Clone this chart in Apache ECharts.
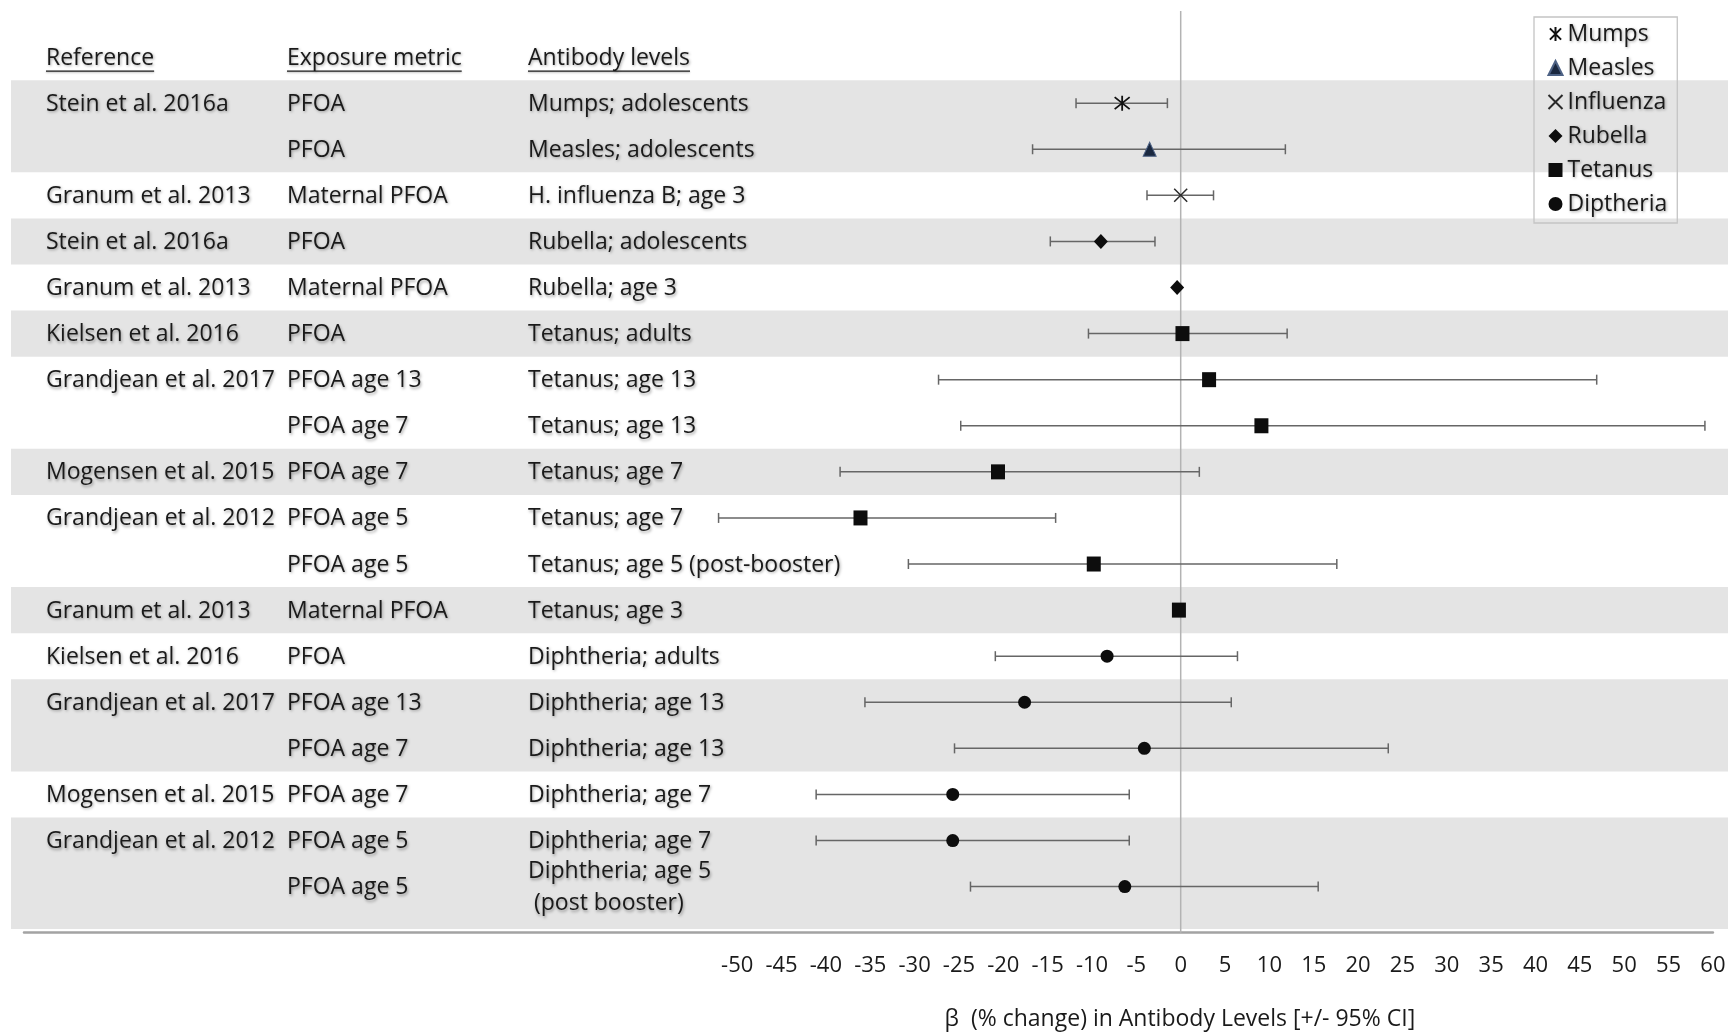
<!DOCTYPE html>
<html><head><meta charset="utf-8">
<script src="https://cdn.jsdelivr.net/npm/echarts@6/dist/echarts.min.js"></script>
<style>html,body{margin:0;padding:0;background:#fff}#c{width:1728px;height:1032px}</style>
</head><body><div id="c"></div>
<script>
// ---------------- data ----------------
const headers = ['Reference', 'Exposure metric', 'Antibody levels'];
const references = ['Stein et al. 2016a', '', 'Granum et al. 2013', 'Stein et al. 2016a', 'Granum et al. 2013',
  'Kielsen et al. 2016', 'Grandjean et al. 2017', '', 'Mogensen et al. 2015', 'Grandjean et al. 2012', '',
  'Granum et al. 2013', 'Kielsen et al. 2016', 'Grandjean et al. 2017', '', 'Mogensen et al. 2015',
  'Grandjean et al. 2012', ''];
const exposures = ['PFOA', 'PFOA', 'Maternal PFOA', 'PFOA', 'Maternal PFOA', 'PFOA', 'PFOA age 13', 'PFOA age 7',
  'PFOA age 7', 'PFOA age 5', 'PFOA age 5', 'Maternal PFOA', 'PFOA', 'PFOA age 13', 'PFOA age 7', 'PFOA age 7',
  'PFOA age 5', 'PFOA age 5'];
const antibodies = ['Mumps; adolescents', 'Measles; adolescents', 'H. influenza B; age 3', 'Rubella; adolescents',
  'Rubella; age 3', 'Tetanus; adults', 'Tetanus; age 13', 'Tetanus; age 13', 'Tetanus; age 7', 'Tetanus; age 7',
  'Tetanus; age 5 (post-booster)', 'Tetanus; age 3', 'Diphtheria; adults', 'Diphtheria; age 13',
  'Diphtheria; age 13', 'Diphtheria; age 7', 'Diphtheria; age 7', 'Diphtheria; age 5\n (post booster)'];
const outcomes = ['Mumps', 'Measles', 'Influenza', 'Rubella', 'Rubella', 'Tetanus', 'Tetanus', 'Tetanus', 'Tetanus',
  'Tetanus', 'Tetanus', 'Tetanus', 'Diptheria', 'Diptheria', 'Diptheria', 'Diptheria', 'Diptheria', 'Diptheria'];
const beta   = [-6.6, -3.5, 0.0, -9.0, -0.4, 0.2, 3.2, 9.1, -20.6, -36.1, -9.8, -0.2, -8.3, -17.6, -4.1, -25.7, -25.7, -6.3];
const ciLow  = [-11.8, -16.7, -3.8, -14.7, null, -10.4, -27.3, -24.8, -38.4, -52.1, -30.7, null, -20.9, -35.6, -25.5, -41.1, -41.1, -23.7];
const ciHigh = [-1.5, 11.8, 3.7, -2.9, null, 12.0, 46.9, 59.1, 2.1, -14.1, 17.6, null, 6.4, 5.7, 23.4, -5.8, -5.8, 15.5];
const shadedGroups = [[0, 1], [3, 3], [5, 5], [8, 8], [11, 11], [13, 14], [16, 17]];
const diseases = ['Mumps', 'Measles', 'Influenza', 'Rubella', 'Tetanus', 'Diptheria'];
const referenceValue = 0;
const axisTitle = 'β  (% change) in Antibody Levels [+/- 95% CI]';

// ---------------- layout / style ----------------
const FONT_FAMILY = '"Open Sans", Lato, sans-serif';
const FS = 23;
const FONT = FS + 'px ' + FONT_FAMILY;
const TXT = '#1a1a1a';
const SHADOW = {textShadowColor: 'rgba(0,0,0,0.35)', textShadowBlur: 3, textShadowOffsetX: 1, textShadowOffsetY: 1.5};
const X0 = 1180.7, PPU = 8.87;            // pixel of 0 and pixels per unit
const XMIN = -55, XMAX = 60;
const TOP = 11, BOTTOM = 99.3;
const colOffsets = [35, 276, 517];

const measure = (() => { const c = document.createElement('canvas').getContext('2d'); c.font = FONT; return t => c.measureText(t).width; })();

const symbols = {
  Mumps:     {symbol: 'path://M-1,-1L1,1M-1,1L1,-1M0,-1.25L0,1.25', size: 15, itemStyle: {color: 'none', borderColor: '#111', borderWidth: 1.8, opacity: 1}},
  Measles:   {symbol: 'triangle', size: [13, 14], itemStyle: {color: '#1a2840', borderColor: '#4d6285', borderWidth: 1, opacity: 1}},
  Influenza: {symbol: 'path://M-1,-1L1,1M-1,1L1,-1', size: 13, itemStyle: {color: 'none', borderColor: '#2a2a2a', borderWidth: 1.5, opacity: 1}},
  Rubella:   {symbol: 'diamond', size: [14, 15], itemStyle: {color: '#0d0d0d', opacity: 1}},
  Tetanus:   {symbol: 'rect', size: [14, 15], itemStyle: {color: '#0d0d0d', opacity: 1}},
  Diptheria: {symbol: 'circle', size: 13, itemStyle: {color: '#0d0d0d', opacity: 1}}
};

const rows = antibodies.map((_, i) => i);

const chart = echarts.init(document.getElementById('c'));

const series = [
  // table bands
  {
    type: 'custom', xAxisIndex: 0, yAxisIndex: 0, z: 0, silent: true,
    data: shadedGroups,
    renderItem(params, api) {
      const s = api.value(0), e = api.value(1);
      const cs = params.coordSys;
      const extra = antibodies[e].indexOf('\n') >= 0 ? 0.42 : 0;
      const y0 = api.coord([0, s - 0.5])[1];
      const y1 = api.coord([0, e + 0.5 + extra])[1];
      return {type: 'rect', shape: {x: cs.x, y: y0, width: cs.width, height: y1 - y0}, style: {fill: '#e4e4e4'}};
    }
  },
  // table text (header row = -1)
  {
    type: 'custom', xAxisIndex: 0, yAxisIndex: 0, z: 1, silent: true,
    data: [-1].concat(rows),
    renderItem(params, api) {
      const r = api.value(0);
      const cs = params.coordSys;
      const y = api.coord([0, r])[1] + 1;
      const texts = r < 0 ? headers : [references[r], exposures[r], antibodies[r]];
      const children = [];
      texts.forEach((t, k) => {
        const x = cs.x + colOffsets[k];
        children.push({type: 'text', style: Object.assign({text: t, x, y, fill: TXT, font: FONT,
          align: 'left', verticalAlign: 'middle', lineHeight: 32}, SHADOW)});
        if (r < 0) {
          children.push({type: 'line', shape: {x1: x, y1: y + 13, x2: x + measure(t), y2: y + 13},
            style: {stroke: TXT, lineWidth: 1.3, shadowColor: 'rgba(0,0,0,0.3)', shadowBlur: 2, shadowOffsetY: 1}});
        }
      });
      return {type: 'group', children};
    }
  },
  // zero reference line (behind the markers)
  {
    type: 'custom', xAxisIndex: 1, yAxisIndex: 1, z: 2, silent: true,
    data: [[referenceValue]],
    renderItem(params, api) {
      const cs = params.coordSys;
      const x = api.coord([api.value(0), 0])[0];
      return {type: 'line', shape: {x1: x, y1: cs.y, x2: x, y2: cs.y + cs.height},
        style: {stroke: '#b3b3b3', lineWidth: 1.5}};
    }
  },
  // error bars
  {
    type: 'custom', xAxisIndex: 1, yAxisIndex: 1, z: 3, silent: true,
    data: rows.filter(i => ciLow[i] != null).map(i => [ciLow[i], ciHigh[i], i]),
    renderItem(params, api) {
      const lo = api.coord([api.value(0), api.value(2)]);
      const hi = api.coord([api.value(1), api.value(2)]);
      const st = {stroke: '#666666', lineWidth: 1.5};
      const h = 5;
      return {type: 'group', children: [
        {type: 'line', shape: {x1: lo[0], y1: lo[1], x2: hi[0], y2: hi[1]}, style: st},
        {type: 'line', shape: {x1: lo[0], y1: lo[1] - h, x2: lo[0], y2: lo[1] + h}, style: st},
        {type: 'line', shape: {x1: hi[0], y1: hi[1] - h, x2: hi[0], y2: hi[1] + h}, style: st}
      ]};
    }
  }
].concat(diseases.map(d => ({
  name: d, type: 'scatter', xAxisIndex: 1, yAxisIndex: 1, z: 4,
  symbol: symbols[d].symbol, symbolSize: symbols[d].size, itemStyle: symbols[d].itemStyle,
  data: rows.filter(i => outcomes[i] === d).map(i => [beta[i], i])
})));

const option = {
  animation: false,
  backgroundColor: '#fff',
  grid: [
    {left: 11, right: 0, top: TOP, bottom: BOTTOM, containLabel: false, outerBoundsMode: 'none'},
    {left: X0 + XMIN * PPU, right: 1728 - (X0 + XMAX * PPU), top: TOP, bottom: BOTTOM, containLabel: false, outerBoundsMode: 'none'},
    {left: 24, right: 1728 - (X0 + XMAX * PPU), top: TOP, bottom: BOTTOM, containLabel: false, outerBoundsMode: 'none'}
  ],
  xAxis: [
    {gridIndex: 0, type: 'value', min: 0, max: 1, show: false},
    {gridIndex: 1, type: 'value', min: XMIN, max: XMAX, interval: 5,
      axisLine: {show: false}, axisTick: {show: false}, splitLine: {show: false},
      axisLabel: {show: true, margin: 22, color: TXT, fontSize: 22, fontFamily: FONT_FAMILY,
        formatter: v => (v < -50 ? '' : String(v))},
      name: axisTitle, nameLocation: 'middle', nameGap: 75,
      nameTextStyle: {color: TXT, fontSize: FS, fontFamily: FONT_FAMILY, padding: [0, 46, 0, 0]}},
    {gridIndex: 2, type: 'value', min: 0, max: 1,
      axisLine: {show: true, onZero: false, lineStyle: {color: '#a3a3a3', width: 2.5}},
      axisTick: {show: false}, axisLabel: {show: false}, splitLine: {show: false}}
  ],
  yAxis: [
    {gridIndex: 0, type: 'value', min: -2, max: 18, inverse: true, show: false},
    {gridIndex: 1, type: 'value', min: -2, max: 18, inverse: true, show: false},
    {gridIndex: 2, type: 'value', min: 0, max: 1, show: false}
  ],
  legend: {
    data: diseases, orient: 'vertical', left: 1534, top: 17,
    padding: [5, 10, 7, 12], itemGap: 10, itemWidth: 14, itemHeight: 14,
    borderColor: '#c4c4c4', borderWidth: 1.3, borderRadius: 0, backgroundColor: 'transparent',
    selectedMode: false,
    textStyle: Object.assign({color: TXT, fontSize: FS, fontFamily: FONT_FAMILY, lineHeight: 24, padding: [0, 0, 0, 0]}, SHADOW)
  },
  series
};
chart.setOption(option);
</script>
</body></html>
